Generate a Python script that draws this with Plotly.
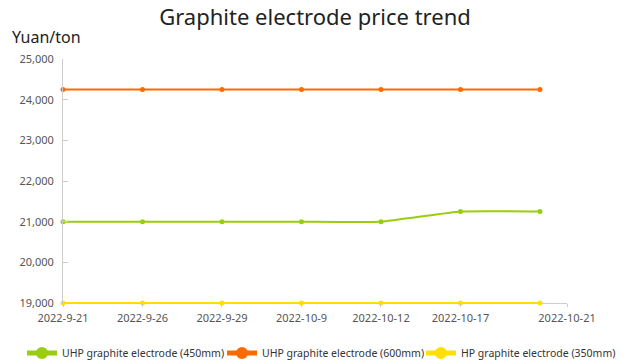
import plotly.graph_objects as go

dates = ["2022-9-21", "2022-9-26", "2022-9-29", "2022-10-9", "2022-10-12", "2022-10-17", "2022-10-21"]
uhp450 = [21000, 21000, 21000, 21000, 21000, 21250, 21250]
uhp600 = [24250, 24250, 24250, 24250, 24250, 24250, 24250]
hp350 = [19000, 19000, 19000, 19000, 19000, 19000, 19000]

series_names = ["UHP graphite electrode (450mm)", "UHP graphite electrode (600mm)", "HP graphite electrode (350mm)"]
colors = ["#9ACD0E", "#FF6A00", "#FFE000"]
legend_ids = ["legend", "legend2", "legend3"]
legend_x_px = [22, 222, 421]

xi = list(range(len(dates)))
fig = go.Figure()
for name, vals, c, lg in zip(series_names, [uhp450, uhp600, hp350], colors, legend_ids):
    fig.add_trace(go.Scatter(
        x=xi, y=vals, name=name, mode="lines+markers",
        line=dict(color=c, width=2, shape="spline", smoothing=0.35),
        marker=dict(color=c, size=5),
        cliponaxis=False, legend=lg,
    ))

xmax = len(dates) - 1 + 0.34
tickvals = xi[:-1] + [xmax]
legend_common = dict(orientation="h", xanchor="left", xref="container", y=1 - 353/360, yref="container",
                     yanchor="middle", font=dict(size=10.5, color="#333333"), itemwidth=30,
                     itemsizing="constant", bgcolor="rgba(0,0,0,0)", borderwidth=0)
layout_legends = {}
for lg, xp in zip(legend_ids, legend_x_px):
    layout_legends[lg] = dict(legend_common, x=xp / 630)

fig.update_layout(
    width=630, height=360,
    margin=dict(l=63, r=63, t=59, b=57, autoexpand=False),
    paper_bgcolor="white", plot_bgcolor="white",
    font=dict(family="Noto Sans", color="#555555", size=11),
    title=dict(text="Graphite electrode price trend", x=0.5, xanchor="center", y=1 - 17/360, yref="container",
               yanchor="middle", font=dict(size=22, color="#222222")),
    xaxis=dict(range=[0, xmax], tickvals=tickvals, ticktext=dates, showgrid=False, zeroline=False,
               showline=True, linecolor="#cccccc", ticks="outside", ticklen=3, tickcolor="#cccccc",
               ticklabelstandoff=2, tickfont=dict(size=11, color="#555555")),
    yaxis=dict(range=[19000, 25000], dtick=1000, tickformat=",", showgrid=False, zeroline=False,
               showline=True, linecolor="#cccccc", ticks="inside", ticklen=5, tickcolor="#cccccc",
               ticklabelstandoff=6, tickfont=dict(size=11, color="#555555")),
    showlegend=True,
    **layout_legends,
)
fig.add_annotation(text="Yuan/ton", xref="paper", yref="paper", x=-53/504, y=1.0 + 22/244,
                   xanchor="left", yanchor="middle", showarrow=False,
                   font=dict(size=16, color="#222222", family="Noto Sans"))
fig.write_html("out.html", config={"displayModeBar": False},
               post_script="document.body.style.margin='0';document.body.style.padding='0';")
